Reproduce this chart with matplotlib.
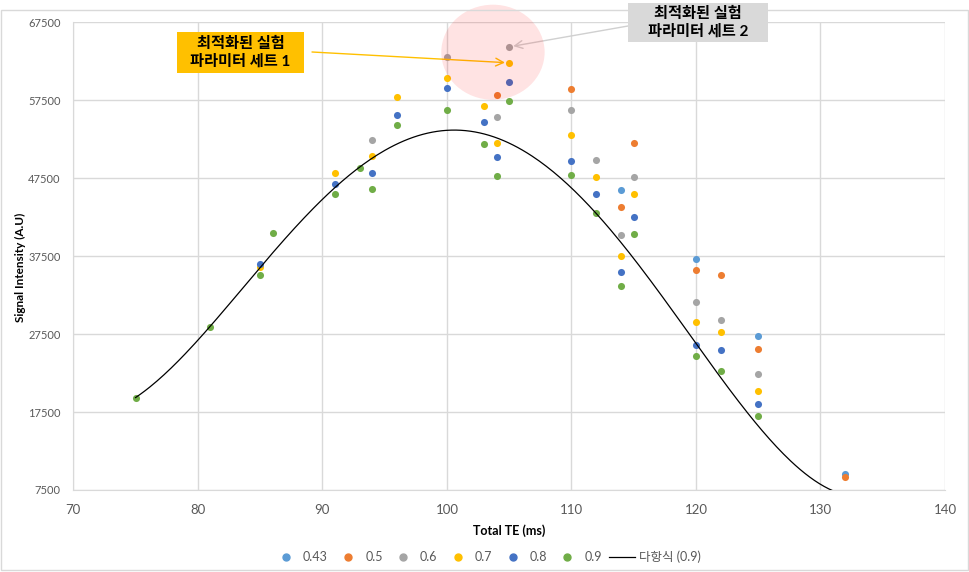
import numpy as np
import matplotlib.pyplot as plt
from matplotlib.patches import Ellipse, Rectangle
from matplotlib.lines import Line2D

plt.rcParams['font.family'] = ['Lato', 'Noto Sans CJK KR', 'DejaVu Sans']

# series data (TE in ms, signal intensity)
labels = ["0.43", "0.5", "0.6", "0.7", "0.8", "0.9"]
colors = ["#5B9BD5", "#ED7D31", "#A5A5A5", "#FFC000", "#4472C4", "#70AD47"]

x_043 = [114, 120, 125, 132]
y_043 = [45970, 37100, 27200, 9600]

x_05 = [104, 110, 114, 115, 120, 122, 125, 132]
y_05 = [58200, 58900, 43800, 52000, 35700, 35050, 25550, 9130]

x_06 = [94, 100, 104, 105, 110, 112, 114, 115, 120, 122, 125]
y_06 = [52400, 63050, 55350, 64350, 56250, 49800, 40200, 47650, 31600, 29300, 22350]

x_07 = [85, 91, 94, 96, 100, 103, 104, 105, 110, 112, 114, 115, 120, 122, 125]
y_07 = [36100, 48150, 50350, 57900, 60350, 56750, 52000, 62300, 53050, 47650,
        37500, 45450, 29050, 27750, 20150]

x_08 = [85, 91, 94, 96, 100, 103, 104, 105, 110, 112, 114, 115, 120, 122, 125]
y_08 = [36450, 46800, 48150, 55600, 59050, 54700, 50200, 59850, 49750, 45450,
        35450, 42500, 26100, 25450, 18500]

# last 0.9 point sits below the 7500 axis floor (hidden), estimated from trendline
x_09 = [75, 81, 85, 86, 91, 93, 94, 96, 100, 103, 104, 105, 110, 112, 114, 115,
        120, 122, 125, 132]
y_09 = [19300, 28400, 35050, 40450, 45450, 48800, 46100, 54300, 56250, 51900,
        47750, 57400, 47900, 43000, 33700, 40300, 24650, 22750, 16950, 6500]

xs = [x_043, x_05, x_06, x_07, x_08, x_09]
ys = [y_043, y_05, y_06, y_07, y_08, y_09]

W, H = 970, 572
fig = plt.figure(figsize=(9.7, 5.72), dpi=100)
ax = fig.add_axes([73.3 / W, 1 - 490 / H, (945 - 73.3) / W, (490 - 22.3) / H])


def fig_rect(x0, y0, x1, y1, **kw):
    # rectangle given in pixels from the top-left corner
    r = Rectangle((x0 / W, 1 - y1 / H), (x1 - x0) / W, (y1 - y0) / H,
                  transform=fig.transFigure, **kw)
    fig.patches.append(r)


# chart border
fig_rect(1, 10, 968, 570, fill=False, edgecolor="#D9D9D9", lw=1)

for x, y, c, lab in zip(xs, ys, colors, labels):
    ax.scatter(x, y, s=26, color=c, label=lab, zorder=3, linewidths=0)

# polynomial trendline of the 0.9 series
coef = np.polyfit(x_09, y_09, 4)
xt = np.linspace(min(x_09), max(x_09), 300)
ax.plot(xt, np.polyval(coef, xt), color="black", lw=0.9, zorder=4)

# highlight circle
ax.add_patch(Ellipse((103.7, 63660), 8.3, 12200, facecolor="#FF0000",
                     alpha=0.11, edgecolor="none", zorder=5, clip_on=False))

ax.set_xlim(70, 140)
ax.set_ylim(7500, 67500)
ax.set_xticks(range(70, 141, 10))
ax.set_yticks(range(7500, 67501, 10000))
ax.grid(True, color="#D9D9D9", lw=1)
ax.set_axisbelow(True)
ax.tick_params(length=0)
ax.tick_params(axis="y", labelsize=8, labelcolor="#595959", pad=9)
ax.tick_params(axis="x", labelsize=9.5, labelcolor="#595959", pad=10)
for s in ["top", "right"]:
    ax.spines[s].set_visible(False)
for s in ["left", "bottom"]:
    ax.spines[s].set_color("#D9D9D9")

ax.set_xlabel("Total TE (ms)", fontsize=9, fontweight="bold", labelpad=6)
ax.set_ylabel("Signal Intensity (A.U)", fontsize=8.5, fontweight="bold")
ax.yaxis.set_label_coords(-0.054, 0.475)

# annotations
ax.annotate("", xy=(105, 62300), xytext=(312, H - 52), textcoords="figure pixels",
            arrowprops=dict(arrowstyle="->", color="#FFC000", lw=1,
                            mutation_scale=14, shrinkA=0, shrinkB=3))
fig_rect(177, 32, 304, 73, facecolor="#FFC000", edgecolor="none")
fig.text(240.5 / W, 1 - 52.5 / H, "최적화된 실험\n파라미터 세트 1", ha="center",
         va="center", fontsize=11, fontweight="bold", linespacing=1.3)

ax.annotate("", xy=(105, 64350), xytext=(628, H - 26), textcoords="figure pixels",
            arrowprops=dict(arrowstyle="->", color="#D0D0D0", lw=1,
                            mutation_scale=14, shrinkA=0, shrinkB=3))
fig_rect(628, 3, 768, 42, facecolor="#D9D9D9", edgecolor="none")
fig.text(698 / W, 1 - 22.5 / H, "최적화된 실험\n파라미터 세트 2", ha="center",
         va="center", fontsize=11, fontweight="bold", linespacing=1.3)

handles = [Line2D([], [], marker="o", ls="none", color=c, markersize=5) for c in colors]
handles.append(Line2D([], [], color="black", lw=0.9))
leg = fig.legend(handles, labels + ["다항식 (0.9)"], loc="center",
                 bbox_to_anchor=(487 / W, 1 - 557 / H), ncol=7, frameon=False,
                 fontsize=9, handlelength=2.1, columnspacing=0.58, handletextpad=0.3)
for t in leg.get_texts():
    t.set_color("#595959")

fig.savefig("out.png", dpi=100)
